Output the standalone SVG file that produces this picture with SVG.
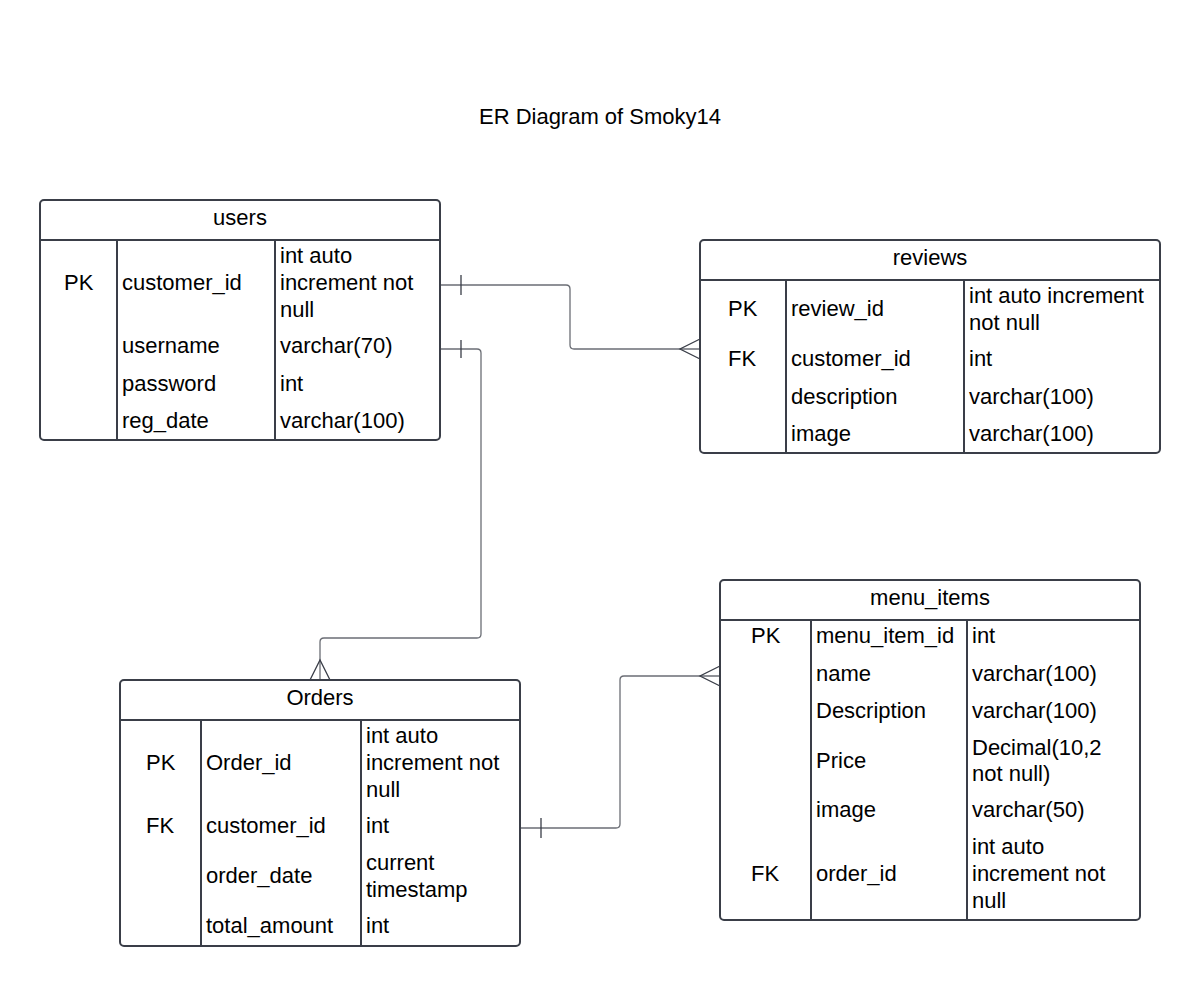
<svg xmlns="http://www.w3.org/2000/svg" width="1200" height="987" viewBox="0 0 1200 987">
<style>
.box{fill:#fff;stroke:#3a3e48;stroke-width:2}
.ln{stroke:#3a3e48;stroke-width:2}
text{font-family:"Liberation Sans",Arial,sans-serif;font-size:22px;fill:#000}
.c{text-anchor:middle}
.con{fill:none;stroke:#6b6e75;stroke-width:1.3}
.mk{fill:none;stroke:#3a3e48;stroke-width:1.3}
</style>
<rect width="1200" height="987" fill="#fff"/>
<text x="600" y="124" class="c">ER Diagram of Smoky14</text>

<g id="connectors">
<path class="con" d="M440 285 H566 Q570 285 570 289 V345 Q570 349 574 349 H700"/>
<path class="mk" d="M461 275 V295 M700 339 L680 349 L700 359"/>
<path class="con" d="M440 349 H477 Q481 349 481 353 V634 Q481 638 477 638 H324 Q320 638 320 642 V680"/>
<path class="mk" d="M461 340 V358 M310 680 L320 660 L330 680"/>
<path class="con" d="M520 828 H616 Q620 828 620 824 V680 Q620 676 624 676 H720"/>
<path class="mk" d="M541 818 V838 M720 666 L700 676 L720 686"/>
</g>

<g id="users">
<rect class="box" x="40" y="200" width="400" height="240" rx="4"/>
<path class="ln" d="M40 240 H440 M117 240 V440 M275 240 V440"/>
<text x="240" y="225" class="c">users</text>
<text x="64" y="290">PK</text>
<text x="122" y="290">customer_id</text>
<text x="280" y="263">int auto</text>
<text x="280" y="290">increment not</text>
<text x="280" y="317">null</text>
<text x="122" y="353">username</text>
<text x="280" y="353">varchar(70)</text>
<text x="122" y="391">password</text>
<text x="280" y="391">int</text>
<text x="122" y="428">reg_date</text>
<text x="280" y="428">varchar(100)</text>
</g>

<g id="reviews">
<rect class="box" x="700" y="240" width="460" height="213" rx="4"/>
<path class="ln" d="M700 280 H1160 M786 280 V453 M964 280 V453"/>
<text x="930" y="265" class="c">reviews</text>
<text x="728" y="316">PK</text>
<text x="791" y="316">review_id</text>
<text x="969" y="303">int auto increment</text>
<text x="969" y="330">not null</text>
<text x="728" y="366">FK</text>
<text x="791" y="366">customer_id</text>
<text x="969" y="366">int</text>
<text x="791" y="404">description</text>
<text x="969" y="404">varchar(100)</text>
<text x="791" y="441">image</text>
<text x="969" y="441">varchar(100)</text>
</g>

<g id="orders">
<rect class="box" x="120" y="680" width="400" height="266" rx="4"/>
<path class="ln" d="M120 720 H520 M201 720 V946 M361 720 V946"/>
<text x="320" y="705" class="c">Orders</text>
<text x="146" y="770">PK</text>
<text x="206" y="770">Order_id</text>
<text x="366" y="743">int auto</text>
<text x="366" y="770">increment not</text>
<text x="366" y="797">null</text>
<text x="146" y="833">FK</text>
<text x="206" y="833">customer_id</text>
<text x="366" y="833">int</text>
<text x="206" y="883">order_date</text>
<text x="366" y="870">current</text>
<text x="366" y="897">timestamp</text>
<text x="206" y="933">total_amount</text>
<text x="366" y="933">int</text>
</g>

<g id="menu_items">
<rect class="box" x="720" y="580" width="420" height="340" rx="4"/>
<path class="ln" d="M720 620 H1140 M811 620 V920 M967 620 V920"/>
<text x="930" y="605" class="c">menu_items</text>
<text x="751" y="643">PK</text>
<text x="816" y="643">menu_item_id</text>
<text x="972" y="643">int</text>
<text x="816" y="681">name</text>
<text x="972" y="681">varchar(100)</text>
<text x="816" y="718">Description</text>
<text x="972" y="718">varchar(100)</text>
<text x="816" y="768">Price</text>
<text x="972" y="755">Decimal(10,2</text>
<text x="972" y="781">not null)</text>
<text x="816" y="817">image</text>
<text x="972" y="817">varchar(50)</text>
<text x="751" y="881">FK</text>
<text x="816" y="881">order_id</text>
<text x="972" y="854">int auto</text>
<text x="972" y="881">increment not</text>
<text x="972" y="908">null</text>
</g>
</svg>
